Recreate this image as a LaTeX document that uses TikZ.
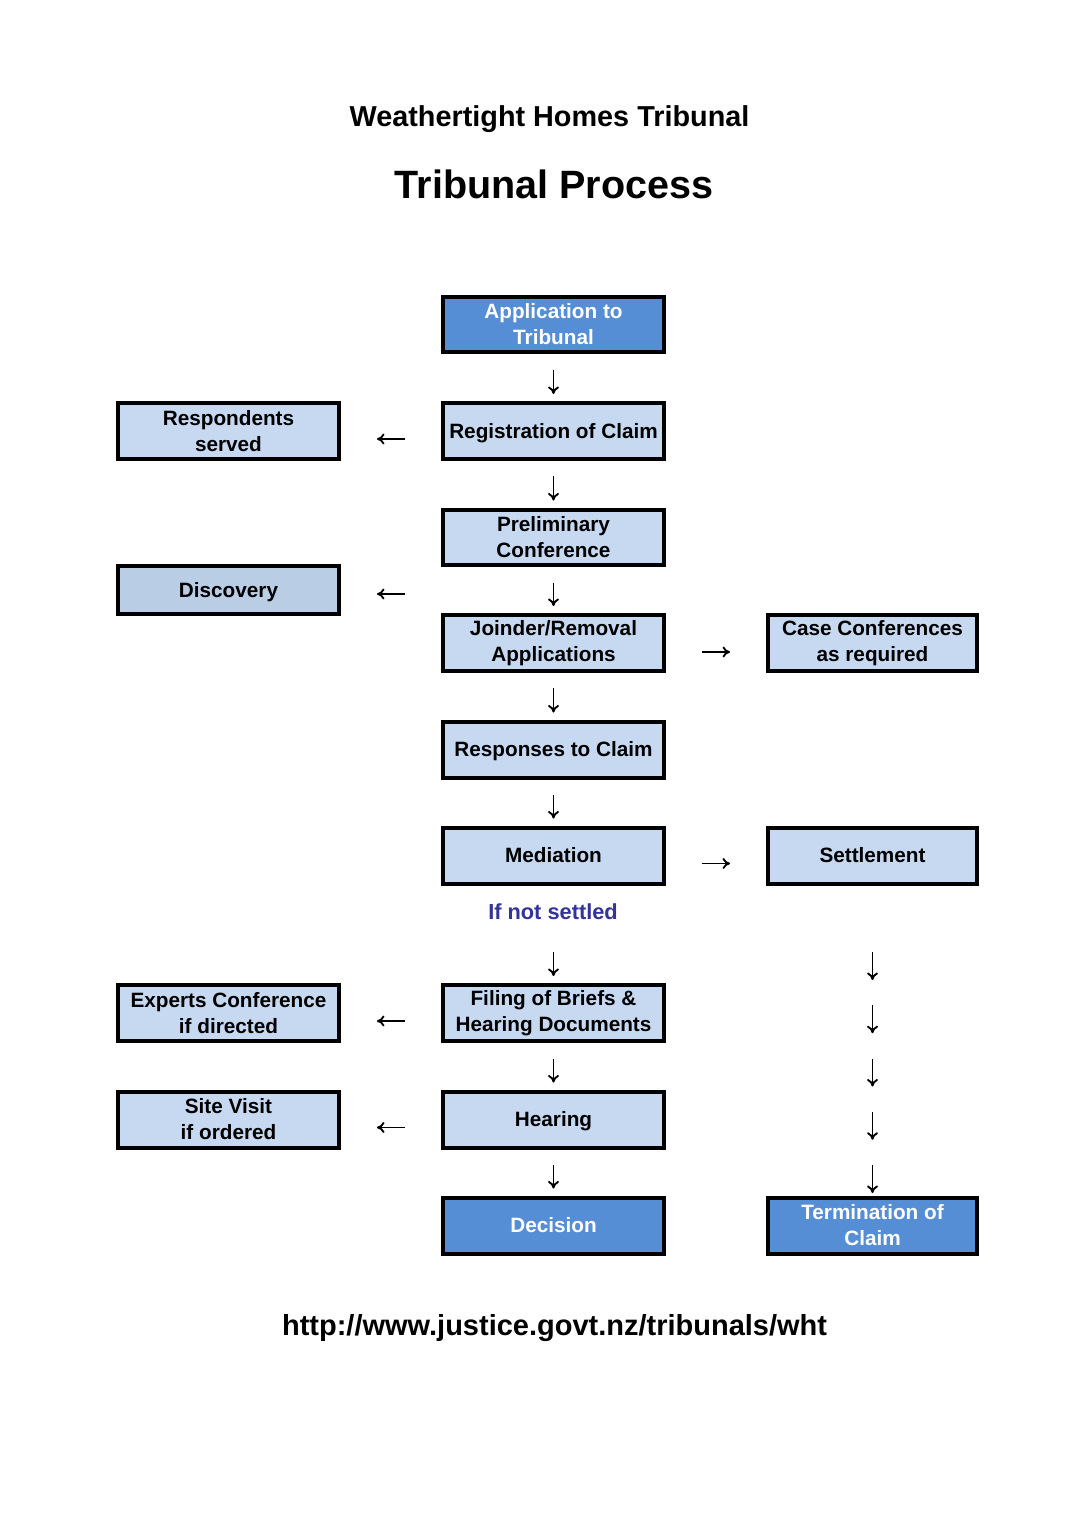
\documentclass[tikz,border=0pt]{standalone}
\usepackage{fontspec}
\setmainfont{Liberation Sans}
\usetikzlibrary{arrows.meta,calc}

\definecolor{stageblue}{RGB}{198,217,241}
\definecolor{discblue}{RGB}{185,205,229}
\definecolor{endblue}{RGB}{85,142,213}
\definecolor{notice}{RGB}{51,51,153}
\newcommand\stagefont{\fontsize{11.8}{14.75}\selectfont\bfseries}

\begin{document}
\begin{tikzpicture}[x=0.02cm,y=-0.02cm,
	stage/.style={draw=black, line width=0.08cm, fill=stageblue, minimum width=4.42cm, minimum height=1.12cm, inner sep=1pt, align=center, font=\stagefont},
	endstage/.style={stage, fill=endblue, text=white},
	oneline/.style={text height=8.2pt, text depth=0pt},
	narrow/.style={minimum width=4.18cm},
	flow/.style={-{To[length=1.5mm,width=2.2mm]}, line width=1.05pt},
	down/.style={flow, shorten <=0.31cm, shorten >=0.14cm},
	side/.style={flow, shorten <=0.72cm, shorten >=0.72cm}]
	\fill[white] (0,0) rectangle (1080,1527);

	%headings
	\node[anchor=base, font=\fontsize{16.4}{19}\selectfont\bfseries] (org) at (549.5,127) {Weathertight Homes Tribunal};
	\node[anchor=base, font=\fontsize{22.5}{26}\selectfont\bfseries] (heading) at (554,199) {Tribunal Process};

	%main column
	\node[endstage] (app) at (553.5,324.5) {Application to\\Tribunal};
	\node[stage, oneline] (reg) at (553.5,431) {Registration of Claim};
	\node[stage] (prelim) at (553.5,537.5) {Preliminary\\Conference};
	\node[stage] (joinder) at (553.5,643) {Joinder/Removal\\Applications};
	\node[stage, oneline] (answer) at (553.5,749.5) {Responses to Claim};
	\node[stage, oneline] (med) at (553.5,855.5) {Mediation};
	\node[anchor=base, text=notice, font=\fontsize{12.4}{15}\selectfont\bfseries] (ifnot) at (553,919) {If not settled};
	\node[stage] (filing) at (553.5,1013) {Filing of Briefs \&\\Hearing Documents};
	\node[stage, oneline] (hearing) at (553.5,1119.5) {Hearing};
	\node[endstage, oneline] (decision) at (553.5,1225.5) {Decision};

	%left column
	\node[stage] (served) at (228.5,431) {Respondents\\served};
	\node[stage, oneline, fill=discblue, minimum height=0.96cm] (discovery) at (228.5,590) {Discovery};
	\node[stage] (experts) at (228.5,1013) {Experts Conference\\if directed};
	\node[stage] (sitevisit) at (228.5,1119.5) {Site Visit\\if ordered};

	%right column
	\node[stage, narrow] (casecon) at (872.5,643) {Case Conferences\\as required};
	\node[stage, narrow, oneline] (settle) at (872.5,855.5) {Settlement};
	\node[endstage, narrow] (termination) at (872.5,1225.5) {Termination of\\Claim};

	%arrows down
	\draw[down] (app) -- (reg);
	\draw[down] (reg) -- (prelim);
	\draw[down] (prelim) -- (joinder);
	\draw[down] (joinder) -- (answer);
	\draw[down] (answer) -- (med);
	\draw[down, shorten <=1.33cm] (med) -- (filing);
	\draw[down] (filing) -- (hearing);
	\draw[down] (hearing) -- (decision);

	%arrows to the sides
	\coordinate (discfrom) at (prelim.west |- discovery.east);
	\draw[side] ([yshift=-0.16cm]reg.west) -- ([yshift=-0.16cm]served.east);
	\draw[side] ([yshift=-0.08cm]discfrom) -- ([yshift=-0.08cm]discovery.east);
	\draw[side] ([yshift=-0.16cm]filing.west) -- ([yshift=-0.16cm]experts.east);
	\draw[side] ([yshift=-0.16cm]hearing.west) -- ([yshift=-0.16cm]sitevisit.east);
	\draw[side] ([yshift=-0.18cm]joinder.east) -- ([yshift=-0.18cm]casecon.west);
	\draw[side] ([yshift=-0.16cm]med.east) -- ([yshift=-0.16cm]settle.west);

	%settlement to termination
	\foreach \k in {0,...,4}{
		\coordinate (drop\k) at ($(settle.south)+(0,66.5+53.25*\k)$);
		\coordinate (land\k) at ($(drop\k)+(0,28)$);
		\draw[flow] (drop\k) -- (land\k);
	}

	%web address
	\node[anchor=base, font=\fontsize{16.5}{19}\selectfont\bfseries] (web) at (554.5,1335) {http://www.justice.govt.nz/tribunals/wht};
\end{tikzpicture}
\end{document}
